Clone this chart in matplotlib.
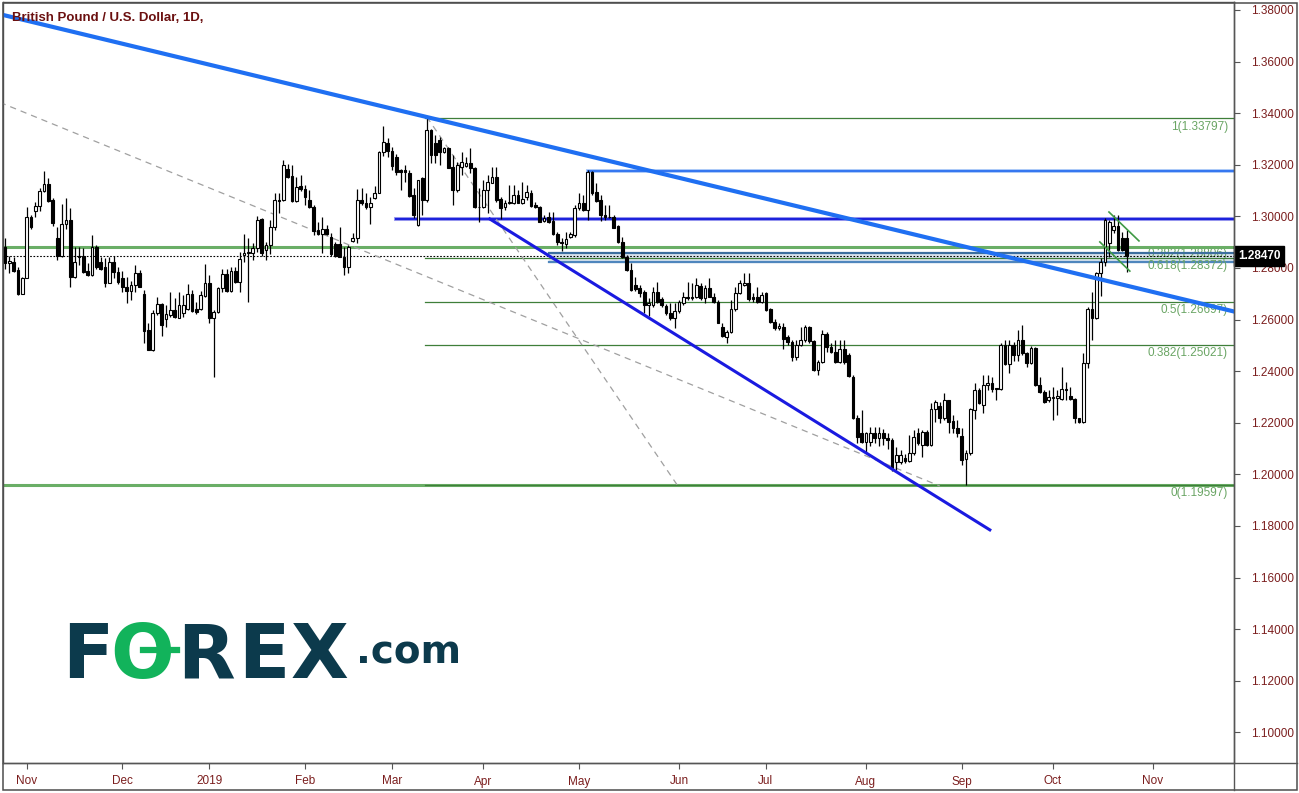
import matplotlib
matplotlib.use("Agg")
import matplotlib.pyplot as plt
import matplotlib.transforms as mtransforms
from matplotlib import font_manager
from matplotlib.lines import Line2D
from matplotlib.patches import Rectangle
import pandas as pd

W, H = 1299, 793

START = "2018-10-25"
HOLIDAYS = ["2018-12-25", "2019-01-01"]

opens = [
    1.2882, 1.2818, 1.2822, 1.2792, 1.2701, 1.2763, 1.2996, 1.3022, 1.3040, 1.3098,
    1.3125, 1.3063, 1.2915, 1.2846, 1.2970, 1.2986, 1.2766, 1.2846, 1.2846, 1.2789,
    1.2773, 1.2882, 1.2822, 1.2805, 1.2743, 1.2822, 1.2783, 1.2763, 1.2727, 1.2712,
    1.2734, 1.2779, 1.2701, 1.2559, 1.2482, 1.2624, 1.2660, 1.2601, 1.2617, 1.2637,
    1.2608, 1.2624, 1.2643, 1.2701, 1.2643, 1.2643, 1.2692, 1.2741, 1.2605, 1.2630,
    1.2721, 1.2775, 1.2712, 1.2788, 1.2744, 1.2849, 1.2857, 1.2859, 1.2876, 1.2988,
    1.2870, 1.2891, 1.2957, 1.3063, 1.3063, 1.3182, 1.3156, 1.3061, 1.3117, 1.3105,
    1.3063, 1.3035, 1.2947, 1.2931, 1.2953, 1.2921, 1.2893, 1.2893, 1.2844, 1.2802,
    1.2906, 1.2918, 1.3063, 1.3053, 1.3035, 1.3070, 1.3092, 1.3250, 1.3285, 1.3255,
    1.3231, 1.3179, 1.3180, 1.3169, 1.3083, 1.2967, 1.3147, 1.3063, 1.3335, 1.3286,
    1.3296, 1.3251, 1.3264, 1.3193, 1.3102, 1.3193, 1.3195, 1.3208, 1.3186, 1.3038,
    1.3035, 1.3102, 1.3131, 1.3151, 1.3066, 1.3038, 1.3050, 1.3050, 1.3083, 1.3050,
    1.3076, 1.3092, 1.3044, 1.3038, 1.2983, 1.2999, 1.2983, 1.2930, 1.2902, 1.2893,
    1.2919, 1.2928, 1.3031, 1.3050, 1.3025, 1.3173, 1.3096, 1.3063, 1.3005, 1.2999,
    1.2999, 1.2963, 1.2902, 1.2844, 1.2792, 1.2734, 1.2721, 1.2708, 1.2656, 1.2656,
    1.2708, 1.2678, 1.2653, 1.2624, 1.2605, 1.2634, 1.2663, 1.2689, 1.2689, 1.2689,
    1.2730, 1.2682, 1.2721, 1.2689, 1.2669, 1.2572, 1.2534, 1.2553, 1.2640, 1.2702,
    1.2734, 1.2740, 1.2689, 1.2686, 1.2670, 1.2702, 1.2640, 1.2592, 1.2566, 1.2573,
    1.2531, 1.2514, 1.2456, 1.2502, 1.2521, 1.2573, 1.2518, 1.2405, 1.2437, 1.2544,
    1.2495, 1.2476, 1.2437, 1.2485, 1.2463, 1.2379, 1.2217, 1.2159, 1.2127, 1.2127,
    1.2162, 1.2140, 1.2159, 1.2140, 1.2133, 1.2049, 1.2049, 1.2062, 1.2053, 1.2082,
    1.2159, 1.2114, 1.2166, 1.2114, 1.2252, 1.2265, 1.2217, 1.2288, 1.2207, 1.2179,
    1.2149, 1.2058, 1.2082, 1.2250, 1.2327, 1.2269, 1.2347, 1.2353, 1.2334, 1.2330,
    1.2502, 1.2428, 1.2502, 1.2463, 1.2521, 1.2469, 1.2431, 1.2489, 1.2346, 1.2321,
    1.2288, 1.2295, 1.2295, 1.2291, 1.2330, 1.2304, 1.2291, 1.2217, 1.2204, 1.2431,
    1.2643, 1.2605, 1.2779, 1.2825, 1.2896, 1.2948, 1.2961, 1.2915, 1.2915,
]
highs = [
    1.2915, 1.2846, 1.2844, 1.2805, 1.2766, 1.3037, 1.3005, 1.3057, 1.3112, 1.3177,
    1.3147, 1.3070, 1.2960, 1.3048, 1.3070, 1.3031, 1.2882, 1.2882, 1.2876, 1.2818,
    1.2928, 1.2889, 1.2841, 1.2837, 1.2844, 1.2846, 1.2805, 1.2789, 1.2766, 1.2751,
    1.2811, 1.2794, 1.2714, 1.2585, 1.2637, 1.2689, 1.2665, 1.2656, 1.2708, 1.2682,
    1.2708, 1.2695, 1.2738, 1.2714, 1.2669, 1.2712, 1.2815, 1.2771, 1.2637, 1.2727,
    1.2798, 1.2798, 1.2805, 1.2802, 1.2863, 1.2931, 1.2915, 1.2895, 1.3001, 1.2992,
    1.2902, 1.2986, 1.3089, 1.3089, 1.3218, 1.3205, 1.3199, 1.3154, 1.3160, 1.3121,
    1.3102, 1.3044, 1.2979, 1.2999, 1.2966, 1.2934, 1.2902, 1.2960, 1.2882, 1.2889,
    1.2937, 1.3108, 1.3111, 1.3092, 1.3076, 1.3117, 1.3255, 1.3350, 1.3305, 1.3270,
    1.3240, 1.3185, 1.3199, 1.3180, 1.3109, 1.3141, 1.3154, 1.3386, 1.3337, 1.3315,
    1.3309, 1.3270, 1.3270, 1.3238, 1.3212, 1.3251, 1.3231, 1.3264, 1.3193, 1.3109,
    1.3141, 1.3160, 1.3193, 1.3193, 1.3076, 1.3063, 1.3122, 1.3122, 1.3102, 1.3134,
    1.3122, 1.3102, 1.3057, 1.3040, 1.3005, 1.3018, 1.3018, 1.2941, 1.2915, 1.2941,
    1.2941, 1.3044, 1.3089, 1.3083, 1.3180, 1.3177, 1.3128, 1.3083, 1.3044, 1.3044,
    1.3005, 1.2967, 1.2921, 1.2850, 1.2818, 1.2766, 1.2734, 1.2715, 1.2682, 1.2728,
    1.2747, 1.2689, 1.2660, 1.2663, 1.2663, 1.2676, 1.2708, 1.2747, 1.2740, 1.2760,
    1.2740, 1.2734, 1.2760, 1.2702, 1.2676, 1.2585, 1.2560, 1.2676, 1.2728, 1.2753,
    1.2779, 1.2782, 1.2702, 1.2728, 1.2708, 1.2708, 1.2644, 1.2601, 1.2588, 1.2586,
    1.2540, 1.2521, 1.2521, 1.2573, 1.2579, 1.2575, 1.2521, 1.2443, 1.2560, 1.2553,
    1.2508, 1.2521, 1.2521, 1.2521, 1.2469, 1.2385, 1.2230, 1.2250, 1.2166, 1.2185,
    1.2185, 1.2185, 1.2175, 1.2160, 1.2140, 1.2108, 1.2095, 1.2080, 1.2153, 1.2172,
    1.2179, 1.2172, 1.2172, 1.2275, 1.2288, 1.2282, 1.2314, 1.2288, 1.2230, 1.2211,
    1.2179, 1.2095, 1.2256, 1.2353, 1.2334, 1.2385, 1.2385, 1.2379, 1.2334, 1.2508,
    1.2521, 1.2521, 1.2515, 1.2560, 1.2579, 1.2476, 1.2498, 1.2495, 1.2379, 1.2327,
    1.2327, 1.2340, 1.2327, 1.2418, 1.2360, 1.2337, 1.2295, 1.2217, 1.2469, 1.2650,
    1.2708, 1.2786, 1.2838, 1.2993, 1.2986, 1.3006, 1.3006, 1.2941, 1.2948,
]
lows = [
    1.2798, 1.2779, 1.2785, 1.2695, 1.2699, 1.2762, 1.2953, 1.2999, 1.3022, 1.3096,
    1.3057, 1.2962, 1.2831, 1.2841, 1.2953, 1.2725, 1.2760, 1.2811, 1.2779, 1.2769,
    1.2769, 1.2798, 1.2794, 1.2727, 1.2741, 1.2760, 1.2738, 1.2708, 1.2663, 1.2676,
    1.2708, 1.2725, 1.2510, 1.2482, 1.2478, 1.2617, 1.2536, 1.2572, 1.2611, 1.2605,
    1.2605, 1.2611, 1.2637, 1.2630, 1.2621, 1.2639, 1.2689, 1.2585, 1.2376, 1.2624,
    1.2708, 1.2708, 1.2708, 1.2741, 1.2708, 1.2824, 1.2669, 1.2831, 1.2863, 1.2846,
    1.2831, 1.2854, 1.2947, 1.3014, 1.3061, 1.3147, 1.3057, 1.3057, 1.3099, 1.3044,
    1.3031, 1.2928, 1.2928, 1.2857, 1.2928, 1.2846, 1.2841, 1.2841, 1.2773, 1.2782,
    1.2902, 1.2895, 1.3044, 1.3027, 1.2970, 1.3066, 1.3089, 1.3235, 1.3230, 1.3180,
    1.3160, 1.3102, 1.3134, 1.3076, 1.2992, 1.2963, 1.3005, 1.3057, 1.3206, 1.3206,
    1.3199, 1.3244, 1.3186, 1.3044, 1.3096, 1.3160, 1.3193, 1.3167, 1.3031, 1.2979,
    1.3031, 1.3012, 1.3128, 1.3057, 1.2988, 1.3025, 1.3048, 1.3048, 1.3050, 1.3048,
    1.3063, 1.3038, 1.3031, 1.2979, 1.2979, 1.2973, 1.2928, 1.2889, 1.2867, 1.2876,
    1.2915, 1.2921, 1.3025, 1.3022, 1.2986, 1.3083, 1.3057, 1.2983, 1.2986, 1.2992,
    1.2954, 1.2895, 1.2837, 1.2790, 1.2712, 1.2712, 1.2689, 1.2624, 1.2614, 1.2650,
    1.2663, 1.2650, 1.2618, 1.2598, 1.2566, 1.2624, 1.2656, 1.2676, 1.2676, 1.2682,
    1.2676, 1.2663, 1.2686, 1.2663, 1.2585, 1.2534, 1.2508, 1.2549, 1.2634, 1.2699,
    1.2730, 1.2673, 1.2669, 1.2663, 1.2663, 1.2634, 1.2588, 1.2560, 1.2560, 1.2485,
    1.2502, 1.2441, 1.2443, 1.2498, 1.2514, 1.2508, 1.2402, 1.2385, 1.2430, 1.2476,
    1.2469, 1.2430, 1.2430, 1.2428, 1.2376, 1.2213, 1.2120, 1.2123, 1.2082, 1.2110,
    1.2120, 1.2110, 1.2115, 1.2100, 1.2015, 1.2017, 1.2040, 1.2045, 1.2049, 1.2075,
    1.2114, 1.2069, 1.2110, 1.2110, 1.2204, 1.2198, 1.2211, 1.2159, 1.2159, 1.2146,
    1.2036, 1.1959, 1.2075, 1.2213, 1.2273, 1.2237, 1.2327, 1.2321, 1.2288, 1.2327,
    1.2424, 1.2392, 1.2440, 1.2440, 1.2463, 1.2415, 1.2428, 1.2343, 1.2314, 1.2275,
    1.2282, 1.2211, 1.2230, 1.2288, 1.2288, 1.2288, 1.2198, 1.2200, 1.2200, 1.2411,
    1.2521, 1.2601, 1.2690, 1.2806, 1.2844, 1.2935, 1.2864, 1.2864, 1.2786,
]
closes = [
    1.2818, 1.2827, 1.2789, 1.2699, 1.2763, 1.2996, 1.2960, 1.3040, 1.3099, 1.3125,
    1.3061, 1.2973, 1.2846, 1.2970, 1.2986, 1.2766, 1.2822, 1.2841, 1.2785, 1.2773,
    1.2880, 1.2805, 1.2798, 1.2743, 1.2822, 1.2785, 1.2747, 1.2725, 1.2712, 1.2734,
    1.2779, 1.2727, 1.2557, 1.2484, 1.2624, 1.2660, 1.2581, 1.2620, 1.2637, 1.2611,
    1.2656, 1.2656, 1.2699, 1.2633, 1.2630, 1.2695, 1.2741, 1.2605, 1.2630, 1.2721,
    1.2775, 1.2712, 1.2788, 1.2744, 1.2833, 1.2859, 1.2863, 1.2876, 1.2986, 1.2859,
    1.2891, 1.2957, 1.3063, 1.3061, 1.3199, 1.3154, 1.3061, 1.3115, 1.3105, 1.3076,
    1.3035, 1.2944, 1.2931, 1.2953, 1.2931, 1.2854, 1.2846, 1.2844, 1.2802, 1.2882,
    1.2918, 1.3063, 1.3050, 1.3035, 1.3053, 1.3092, 1.3250, 1.3290, 1.3255, 1.3195,
    1.3173, 1.3173, 1.3173, 1.3079, 1.3005, 1.3141, 1.3063, 1.3335, 1.3238, 1.3238,
    1.3251, 1.3264, 1.3186, 1.3102, 1.3199, 1.3212, 1.3206, 1.3186, 1.3035, 1.3035,
    1.3102, 1.3134, 1.3151, 1.3063, 1.3031, 1.3053, 1.3057, 1.3083, 1.3053, 1.3066,
    1.3093, 1.3040, 1.3035, 1.2979, 1.2992, 1.2979, 1.2930, 1.2902, 1.2895, 1.2911,
    1.2932, 1.3031, 1.3050, 1.3025, 1.3173, 1.3089, 1.3061, 1.3005, 1.2996, 1.2996,
    1.2954, 1.2902, 1.2844, 1.2792, 1.2715, 1.2717, 1.2704, 1.2656, 1.2666, 1.2708,
    1.2669, 1.2656, 1.2624, 1.2605, 1.2634, 1.2669, 1.2689, 1.2682, 1.2682, 1.2734,
    1.2682, 1.2721, 1.2689, 1.2669, 1.2588, 1.2536, 1.2553, 1.2640, 1.2702, 1.2740,
    1.2740, 1.2678, 1.2678, 1.2669, 1.2695, 1.2637, 1.2592, 1.2566, 1.2575, 1.2524,
    1.2514, 1.2456, 1.2502, 1.2521, 1.2573, 1.2518, 1.2405, 1.2437, 1.2544, 1.2495,
    1.2476, 1.2437, 1.2485, 1.2437, 1.2381, 1.2217, 1.2146, 1.2127, 1.2159, 1.2159,
    1.2140, 1.2162, 1.2140, 1.2133, 1.2023, 1.2075, 1.2075, 1.2053, 1.2082, 1.2146,
    1.2120, 1.2166, 1.2114, 1.2252, 1.2282, 1.2217, 1.2288, 1.2204, 1.2179, 1.2159,
    1.2056, 1.2082, 1.2252, 1.2327, 1.2275, 1.2346, 1.2353, 1.2330, 1.2330, 1.2502,
    1.2428, 1.2502, 1.2463, 1.2521, 1.2469, 1.2431, 1.2489, 1.2346, 1.2321, 1.2282,
    1.2301, 1.2301, 1.2304, 1.2330, 1.2327, 1.2291, 1.2217, 1.2204, 1.2431, 1.2643,
    1.2605, 1.2779, 1.2825, 1.2986, 1.2980, 1.2961, 1.2870, 1.2870, 1.2847,
]

last_price = 1.28470
price_ticks = [1.10, 1.12, 1.14, 1.16, 1.18, 1.20, 1.22, 1.24, 1.26, 1.28,
               1.30, 1.32, 1.34, 1.36, 1.38]

# fibonacci retracement drawn from the March high
fib_ratios = ["0", "0.382", "0.5", "0.618", "1"]
fib_prices = [1.19597, 1.25021, 1.26697, 1.28372, 1.33797]
fib_start = 97
second_fib = ("0.382", 1.28806)

# horizontal levels: (price, first bar)
blue_levels = [(1.3175, 134), (1.2990, 90)]
band = (1.2823, 1.2858, 125)

# trendlines as (bar index, price) pairs
main_trend = ([-0.5, 283.0], [1.3781, 1.2630])
channel_line = ([111.5, 226.5], [1.2990, 1.1785])
dash_long = ([-1.2, 215.0], [1.3442, 1.1955])
dash_steep = ([97.0, 154.6], [1.3386, 1.1959])
flag_top = ([253.9, 260.8], [1.3017, 1.2905])
flag_bottom = ([251.8, 258.7], [1.2901, 1.2788])

RED = "#7b1e1e"
FIBGREEN = "#3f7f3a"
LIGHTGREEN = "#6aae66"
LABELGREEN = "#6aa564"


def pick_font():
    names = {f.name for f in font_manager.fontManager.ttflist}
    for name in ["Liberation Sans Narrow", "Liberation Sans", "DejaVu Sans"]:
        if name in names:
            return name
    return "DejaVu Sans"


def trading_days(n):
    return pd.bdate_range(START, periods=n + 40, freq="C", holidays=HOLIDAYS)


def month_ticks(days, last):
    pos, labels = [], []
    prev = None
    for i, d in enumerate(days):
        key = (d.year, d.month)
        if key != prev and 0 < i < last:
            pos.append(i)
            labels.append(str(d.year) if d.month == 1 else d.strftime("%b"))
        prev = key
    return pos, labels


def draw_candles(ax):
    idx = list(range(len(closes)))
    ax.vlines(idx, lows, highs, color="black", linewidth=0.9, zorder=4)
    bottoms = [min(o, c) for o, c in zip(opens, closes)]
    heights = [max(abs(c - o), 0.00012) for o, c in zip(opens, closes)]
    faces = ["white" if c >= o else "black" for o, c in zip(opens, closes)]
    ax.bar(idx, heights, bottom=bottoms, width=0.62, color=faces,
           edgecolor="black", linewidth=0.8, zorder=5)


def draw_levels(ax, right):
    # full width green levels
    ax.axhline(second_fib[1], color=LIGHTGREEN, lw=2.2, zorder=2)
    ax.axhline(fib_prices[0], color=LIGHTGREEN, lw=2.2, zorder=2)
    for p in fib_prices:
        ax.plot([fib_start - 0.3, right], [p, p], color=FIBGREEN, lw=0.9, zorder=2)
    # blue horizontal levels
    ax.plot([blue_levels[0][1], right], [blue_levels[0][0]] * 2,
            color="#a9c8f7", lw=2.8, zorder=2)
    ax.plot([blue_levels[0][1], right], [blue_levels[0][0]] * 2,
            color="#2a6ff0", lw=1.3, zorder=2)
    ax.plot([blue_levels[1][1], right], [blue_levels[1][0]] * 2,
            color="#a4a4f0", lw=2.9, zorder=2)
    ax.plot([blue_levels[1][1], right], [blue_levels[1][0]] * 2,
            color="#1c22dc", lw=1.6, zorder=2)
    lo, hi, start = band
    ax.fill_between([start, right], lo, hi, color="#dbe5ef", zorder=1)
    ax.plot([start, right], [hi, hi], color="#3d6f9f", lw=1.6, zorder=2)
    ax.plot([start, right], [lo, lo], color="#4f86bd", lw=1.6, zorder=2)
    # current price
    ax.axhline(last_price, color="black", lw=0.8, ls=(0, (1.5, 1.5)), zorder=3)


def draw_fib_labels(ax, font, size):
    trans = mtransforms.blended_transform_factory(ax.transAxes, ax.transData)
    x = 1 - 6 / 1231
    for r, p in zip(fib_ratios, fib_prices):
        ax.text(x, p - 0.0008, f"{r}({p:.5f})", transform=trans, ha="right",
                va="top", fontsize=size, color=LABELGREEN, family=font, zorder=2)
    ax.text(x, second_fib[1] - 0.0004, f"{second_fib[0]}({second_fib[1]:.5f})",
            transform=trans, ha="right", va="top", fontsize=size,
            color=LABELGREEN, family=font, zorder=1.5)


def draw_trendlines(ax):
    ax.plot(*dash_long, color="#a0a0a0", lw=0.9, ls=(0, (5, 4)), zorder=3)
    ax.plot(*dash_steep, color="#a0a0a0", lw=0.9, ls=(0, (5, 4)), zorder=3)
    ax.plot(*main_trend, color="#1f6ff2", lw=3.0, zorder=6, solid_capstyle="butt")
    ax.plot(*channel_line, color="#1a1ae0", lw=2.2, zorder=6)
    ax.plot(*flag_top, color="#3f9a45", lw=1.2, zorder=6)
    ax.plot(*flag_bottom, color="#3f9a45", lw=1.2, zorder=6)


def draw_logo(fig):
    dark = "#0c3a4c"
    green = "#12b35b"
    base = (H - 678) / H
    kw = dict(fontsize=54, fontweight="bold", family="DejaVu Sans", va="baseline")
    fig.text(62 / W, base, "F", color=dark, **kw)
    fig.text(110 / W, base, "O", color=green, **kw)
    fig.text(177 / W, base, "R", color=dark, **kw)
    fig.text(238 / W, base, "E", color=dark, **kw)
    fig.text(291 / W, base, "X", color=dark, **kw)
    fig.text(356 / W, (H - 663) / H, ".com", color=dark, fontsize=28,
             fontweight="bold", family="DejaVu Sans", va="baseline")
    fig.add_artist(Line2D([143 / W, 177 / W], [(H - 650) / H] * 2, color=green,
                          lw=4.5, transform=fig.transFigure))


def main():
    font = pick_font()
    small = 8.5 if font != "Liberation Sans Narrow" else 10

    n = len(closes)
    fig = plt.figure(figsize=(W / 100, H / 100), dpi=100)
    ax_left, ax_right = 3, 1234
    ax_top, ax_bottom = 2, 763
    ax = fig.add_axes([ax_left / W, (H - ax_bottom) / H,
                       (ax_right - ax_left) / W, (ax_bottom - ax_top) / H])

    px_per_bar = 4.348
    x0 = (ax_left - 5) / px_per_bar
    x1 = (ax_right - 5) / px_per_bar
    ax.set_xlim(x0, x1)
    ax.set_ylim(1.38 - (ax_bottom - 10) / 2580, 1.38 + (10 - ax_top) / 2580)

    days = trading_days(n)
    tick_pos, tick_labels = month_ticks(days, x1 - 2)

    draw_levels(ax, x1)
    draw_fib_labels(ax, font, small)
    draw_trendlines(ax)
    draw_candles(ax)

    ax.yaxis.tick_right()
    ax.set_yticks(price_ticks)
    ax.set_yticklabels([f"{p:.5f}" for p in price_ticks])
    ax.set_xticks(tick_pos)
    ax.set_xticklabels(tick_labels)
    ax.tick_params(axis="y", direction="out", length=4, pad=8, labelsize=small,
                   labelcolor=RED, color="#555555", width=0.8)
    ax.tick_params(axis="x", direction="out", length=4, pad=5, labelsize=small,
                   labelcolor=RED, color="#555555", width=0.8)
    for lab in ax.get_xticklabels() + ax.get_yticklabels():
        lab.set_family(font)
    for s in ax.spines.values():
        s.set_color("#555555")
        s.set_linewidth(1.0)

    # last price tag
    trans = mtransforms.blended_transform_factory(ax.transAxes, ax.transData)
    ax.text(1 + 4 / 1231, last_price, f"{last_price:.5f}", transform=trans,
            ha="left", va="center", fontsize=small, fontweight="bold",
            color="white", family=font, clip_on=False, zorder=20,
            bbox=dict(boxstyle="square,pad=0.32", fc="black", ec="black"))

    ax.text(9 / 1231, 1 - 10 / 761, "British Pound / U.S. Dollar, 1D,",
            transform=ax.transAxes, ha="left", va="top", fontsize=small + 1,
            fontweight="bold", color="#6b1010", family=font, zorder=10)

    draw_logo(fig)

    # outer frame of the chart window
    fig.add_artist(Rectangle((3 / W, 3 / H), (1297 - 3) / W, (790 - 3) / H,
                             transform=fig.transFigure, fill=False,
                             ec="#4d4d4d", lw=1.1))
    fig.add_artist(Line2D([ax_right / W] * 2, [3 / H, (H - 2) / H],
                          color="#555555", lw=1.0, transform=fig.transFigure))
    fig.add_artist(Line2D([3 / W, 1297 / W], [(H - ax_bottom) / H] * 2,
                          color="#555555", lw=1.0, transform=fig.transFigure))

    fig.savefig("out.png", dpi=100, facecolor="white")


if __name__ == "__main__":
    main()
